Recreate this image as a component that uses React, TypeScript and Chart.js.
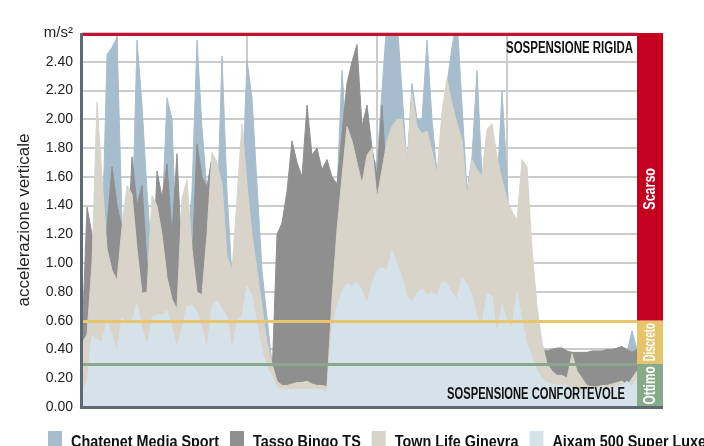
import React, { useEffect, useRef } from "react";
import { Chart, registerables } from "chart.js";

Chart.register(...registerables);

const seriesNames = ["Chatenet Media Sport", "Tasso Bingo TS", "Town Life Ginevra", "Aixam 500 Super Luxe"];
const seriesColors = ["#a6bdcd", "#8f8f8f", "#d8d4ca", "#d6e2ea"];

const chatenet = [
  0.4, 0.8, 1.0, 1.2, 1.1, 2.45, 2.5, 2.57, 1.3, 1.1, 1.2, 2.55, 2.1, 1.5, 1.0, 1.0, 1.3, 2.15, 2.0, 1.0,
  1.0, 1.1, 1.5, 2.55, 1.94, 1.5, 1.4, 1.3, 2.44, 1.5, 0.9, 0.9, 1.5, 2.41, 2.15, 1.55, 0.95, 0.62, 0.3, 0.2,
  0.15, 0.15, 0.15, 0.15, 0.15, 0.15, 0.15, 0.15, 0.3, 0.8, 1.2, 1.5, 2.34, 1.8, 1.6, 1.5, 1.6, 1.6, 1.7, 1.7,
  2.2, 2.7, 2.7, 2.7, 2.2, 1.67, 2.25, 2.0, 2.0, 2.55, 2.0, 1.62, 1.9, 2.25, 2.5, 2.7, 2.1, 1.5, 1.74, 2.34,
  1.6, 1.9, 1.95, 1.5, 2.2, 1.6, 0.9, 0.8, 0.7, 0.6, 0.5, 0.45, 0.4, 0.3, 0.3, 0.3, 0.3, 0.3, 0.3, 0.3,
  0.3, 0.3, 0.3, 0.3, 0.3, 0.3, 0.3, 0.3, 0.3, 0.38, 0.53, 0.4,
];

const tasso = [
  0.45, 1.39, 1.2, 0.9, 0.8, 1.25, 1.67, 1.4, 1.25, 1.0, 1.74, 1.4, 1.54, 1.0, 0.8, 1.64, 1.46, 1.69, 1.2, 1.76,
  1.0, 0.9, 1.0, 1.83, 1.6, 1.53, 1.74, 1.2, 0.9, 0.8, 0.7, 0.7, 0.6, 0.6, 0.5, 0.45, 0.4, 0.3, 0.2, 1.2,
  1.28, 1.5, 1.85, 1.7, 1.6, 2.1, 1.75, 1.8, 1.65, 1.72, 1.6, 1.55, 1.9, 2.25, 2.4, 2.52, 1.95, 2.1, 1.8, 1.6,
  2.1, 1.5, 1.4, 1.4, 1.3, 1.3, 1.3, 1.3, 1.3, 1.3, 1.3, 1.3, 1.3, 1.3, 1.3, 1.3, 1.3, 1.2, 1.2, 1.2,
  1.2, 1.2, 1.2, 1.2, 1.2, 1.2, 1.1, 1.0, 0.9, 0.8, 0.6, 0.45, 0.4, 0.39, 0.4, 0.41, 0.41, 0.39, 0.38, 0.38,
  0.38, 0.38, 0.39, 0.39, 0.39, 0.4, 0.4, 0.41, 0.42, 0.4, 0.38, 0.4,
];

const townLife = [
  0.45, 0.5, 1.0, 2.12, 1.6, 1.1, 0.95, 0.88, 1.25, 1.54, 1.48, 1.1, 0.79, 0.8, 1.47, 1.4, 1.2, 0.9, 0.75, 0.68,
  1.45, 1.58, 1.1, 0.8, 0.78, 1.2, 1.77, 1.7, 1.55, 1.05, 0.95, 1.45, 1.97, 1.55, 1.2, 0.95, 0.7, 0.45, 0.3, 0.18,
  0.15, 0.15, 0.16, 0.17, 0.17, 0.18, 0.16, 0.15, 0.15, 0.14, 0.75, 1.23, 1.6, 1.95, 1.85, 1.7, 1.55, 1.75, 1.8, 1.45,
  1.65, 1.85, 1.95, 2.0, 2.0, 1.69, 2.18, 1.95, 1.9, 1.92, 1.78, 1.62, 2.05, 2.28, 2.11, 1.97, 1.86, 1.46, 1.72, 1.65,
  1.6, 1.93, 1.97, 1.74, 1.58, 1.45, 1.36, 1.3, 1.72, 1.67, 1.1, 0.7, 0.45, 0.3, 0.25, 0.22, 0.22, 0.2, 0.37, 0.25,
  0.2, 0.15, 0.14, 0.14, 0.15, 0.15, 0.16, 0.17, 0.18, 0.15, 0.2, 0.25,
];

const aixam = [
  0.12, 0.18, 0.5, 0.47, 0.45, 0.6, 0.5, 0.38, 0.62, 0.58, 0.6, 0.72, 0.55, 0.42, 0.62, 0.64, 0.64, 0.67, 0.55, 0.41,
  0.55, 0.7, 0.71, 0.66, 0.55, 0.4, 0.7, 0.74, 0.68, 0.63, 0.39, 0.6, 0.63, 0.84, 0.77, 0.58, 0.39, 0.28, 0.21, 0.13,
  0.12, 0.12, 0.12, 0.12, 0.12, 0.12, 0.12, 0.12, 0.12, 0.1, 0.55, 0.7, 0.8, 0.86, 0.84, 0.87, 0.81, 0.72, 0.86, 0.95,
  0.97, 0.95, 1.09, 1.0, 0.9, 0.77, 0.73, 0.79, 0.82, 0.78, 0.8, 0.77, 0.87, 0.86, 0.79, 0.75, 0.9, 0.86, 0.77, 0.63,
  0.57, 0.79, 0.77, 0.5, 0.72, 0.6, 0.55, 0.8, 0.6, 0.44, 0.35, 0.25, 0.2, 0.17, 0.16, 0.15, 0.15, 0.14, 0.13, 0.12,
  0.12, 0.12, 0.12, 0.12, 0.12, 0.13, 0.13, 0.14, 0.15, 0.18, 0.14, 0.2,
];

const yMax = 2.6;
const yStep = 0.2;
const unitLabel = "m/s²";
const yTitle = "accelerazione verticale";
const gridMarks = [6.94, 32.94, 58.94, 84.94];
const zoneLabels = ["Scarso", "Discreto", "Ottimo"];
const zoneFrom = [0.6, 0.3, 0];
const zoneTo = [2.6, 0.6, 0.3];
const zoneColors = ["#c5001f", "#e6c46c", "#87aa89"];
const topNote = "SOSPENSIONE RIGIDA";
const bottomNote = "SOSPENSIONE CONFORTEVOLE";

const NARROW = '"Liberation Sans Narrow", "Liberation Sans", Arial, sans-serif';
const REG = '"Liberation Sans", Arial, sans-serif';

function condensed(ctx: any, text: string, x: number, y: number, f: number) {
  ctx.save();
  ctx.translate(x, y);
  ctx.scale(f, 1);
  ctx.fillText(text, 0, 0);
  ctx.restore();
}

const overlayPlugin = {
  id: "overlay",
  afterDatasetsDraw(chart: any) {
    const { ctx, chartArea: a, scales } = chart;
    const y = scales.y;
    ctx.save();
    const hline = (v: number, color: string) => {
      const py = Math.round(y.getPixelForValue(v)) + 0.5;
      ctx.strokeStyle = color;
      ctx.lineWidth = 3;
      ctx.beginPath();
      ctx.moveTo(a.left, py);
      ctx.lineTo(a.right, py);
      ctx.stroke();
    };
    hline(zoneFrom[0], "#e8c76a");
    hline(zoneFrom[1], "#88a98b");
    ctx.fillStyle = "#c8102e";
    ctx.fillRect(a.left, a.top, a.right - a.left, 3);
    const bw = 26;
    zoneLabels.forEach((label, i) => {
      const t = y.getPixelForValue(zoneTo[i]);
      const b = y.getPixelForValue(zoneFrom[i]);
      ctx.fillStyle = zoneColors[i];
      ctx.fillRect(a.right, t, bw, b - t);
      ctx.save();
      ctx.translate(a.right + bw / 2 + 1, (t + b) / 2 + (i === 0 ? 12 : 0));
      ctx.rotate(-Math.PI / 2);
      ctx.fillStyle = "#ffffff";
      ctx.font = `bold 16px ${NARROW}`;
      ctx.textBaseline = "middle";
      ctx.textAlign = "left";
      const raw = ctx.measureText(label).width;
      const f = Math.min(0.78, (b - t - 5) / raw);
      condensed(ctx, label, (-raw * f) / 2, 0, f);
      ctx.restore();
    });
    ctx.fillStyle = "#111111";
    ctx.font = `bold 16px ${NARROW}`;
    ctx.textAlign = "left";
    ctx.textBaseline = "alphabetic";
    const f1 = 127 / ctx.measureText(topNote).width;
    condensed(ctx, topNote, a.right - 4 - 127, a.top + 20, f1);
    const f2 = 178 / ctx.measureText(bottomNote).width;
    condensed(ctx, bottomNote, a.right - 12 - 178, a.bottom - 8, f2);
    ctx.fillStyle = "#5c6a75";
    ctx.fillRect(a.left - 2, a.top, 3, a.bottom - a.top + 2);
    ctx.fillRect(a.left - 2, a.bottom - 1, a.right + bw - a.left + 2, 3);
    ctx.restore();
  },
  afterDraw(chart: any) {
    const { ctx } = chart;
    ctx.save();
    ctx.font = `bold 17px ${NARROW}`;
    ctx.textBaseline = "alphabetic";
    ctx.textAlign = "left";
    const f = 148 / ctx.measureText(seriesNames[0]).width;
    let x = 48;
    seriesNames.forEach((name, i) => {
      ctx.fillStyle = seriesColors[i];
      ctx.fillRect(x, 431, 14, 15);
      ctx.fillStyle = "#111111";
      condensed(ctx, name, x + 23, 447, f);
      x += 23 + ctx.measureText(name).width * f + 11;
    });
    ctx.restore();
  },
};

export default function App() {
  const ref = useRef<HTMLCanvasElement | null>(null);
  useEffect(() => {
    document.body.style.margin = "0";
    if (!ref.current) return;
    const values = [chatenet, tasso, townLife, aixam];
    const labels = chatenet.map((_, i) => i);
    const datasets = [3, 2, 1, 0].map((k) => ({
      label: seriesNames[k],
      data: values[k].map((v, i) => ({ x: labels[i], y: v })),
      backgroundColor: seriesColors[k],
      borderColor: seriesColors[k],
      borderWidth: 1,
      pointRadius: 0,
      tension: 0,
      fill: "origin",
    }));
    const chart = new Chart(ref.current, {
      type: "line",
      data: { datasets },
      options: {
        animation: false,
        responsive: false,
        devicePixelRatio: 1,
        layout: { padding: { left: 0, right: 67, top: 33, bottom: 39 } },
        plugins: { legend: { display: false }, tooltip: { enabled: false } },
        scales: {
          x: {
            type: "linear",
            min: 0,
            max: chatenet.length - 1,
            ticks: { display: false },
            grid: { color: "#cccccc", lineWidth: 2, drawTicks: false },
            border: { display: false },
            afterBuildTicks: (s: any) => {
              s.ticks = gridMarks.map((v) => ({ value: v }));
            },
            afterFit: (s: any) => {
              s.height = 0;
            },
          },
          y: {
            min: 0,
            max: yMax,
            ticks: {
              stepSize: yStep,
              padding: 9,
              color: "#222222",
              font: (c: any) => ({ family: REG, size: c.tick && Math.abs(c.tick.value - yMax) < 1e-6 ? 15 : 14 }),
              callback: (v: any) => (Math.abs(v - yMax) < 1e-6 ? unitLabel : Number(v).toFixed(2)),
            },
            grid: { color: "#cccccc", lineWidth: 2, drawTicks: false },
            border: { display: false },
            title: {
              display: true,
              text: yTitle,
              color: "#222222",
              font: { family: REG, size: 17 },
              padding: { top: 14, bottom: 0 },
            },
            afterFit: (s: any) => {
              s.width = 82;
            },
          },
        },
      },
      plugins: [overlayPlugin],
    });
    return () => chart.destroy();
  }, []);
  return (
    <div style={{ width: 704, height: 446, background: "#ffffff" }}>
      <canvas ref={ref} width={704} height={446} style={{ display: "block" }} />
    </div>
  );
}
